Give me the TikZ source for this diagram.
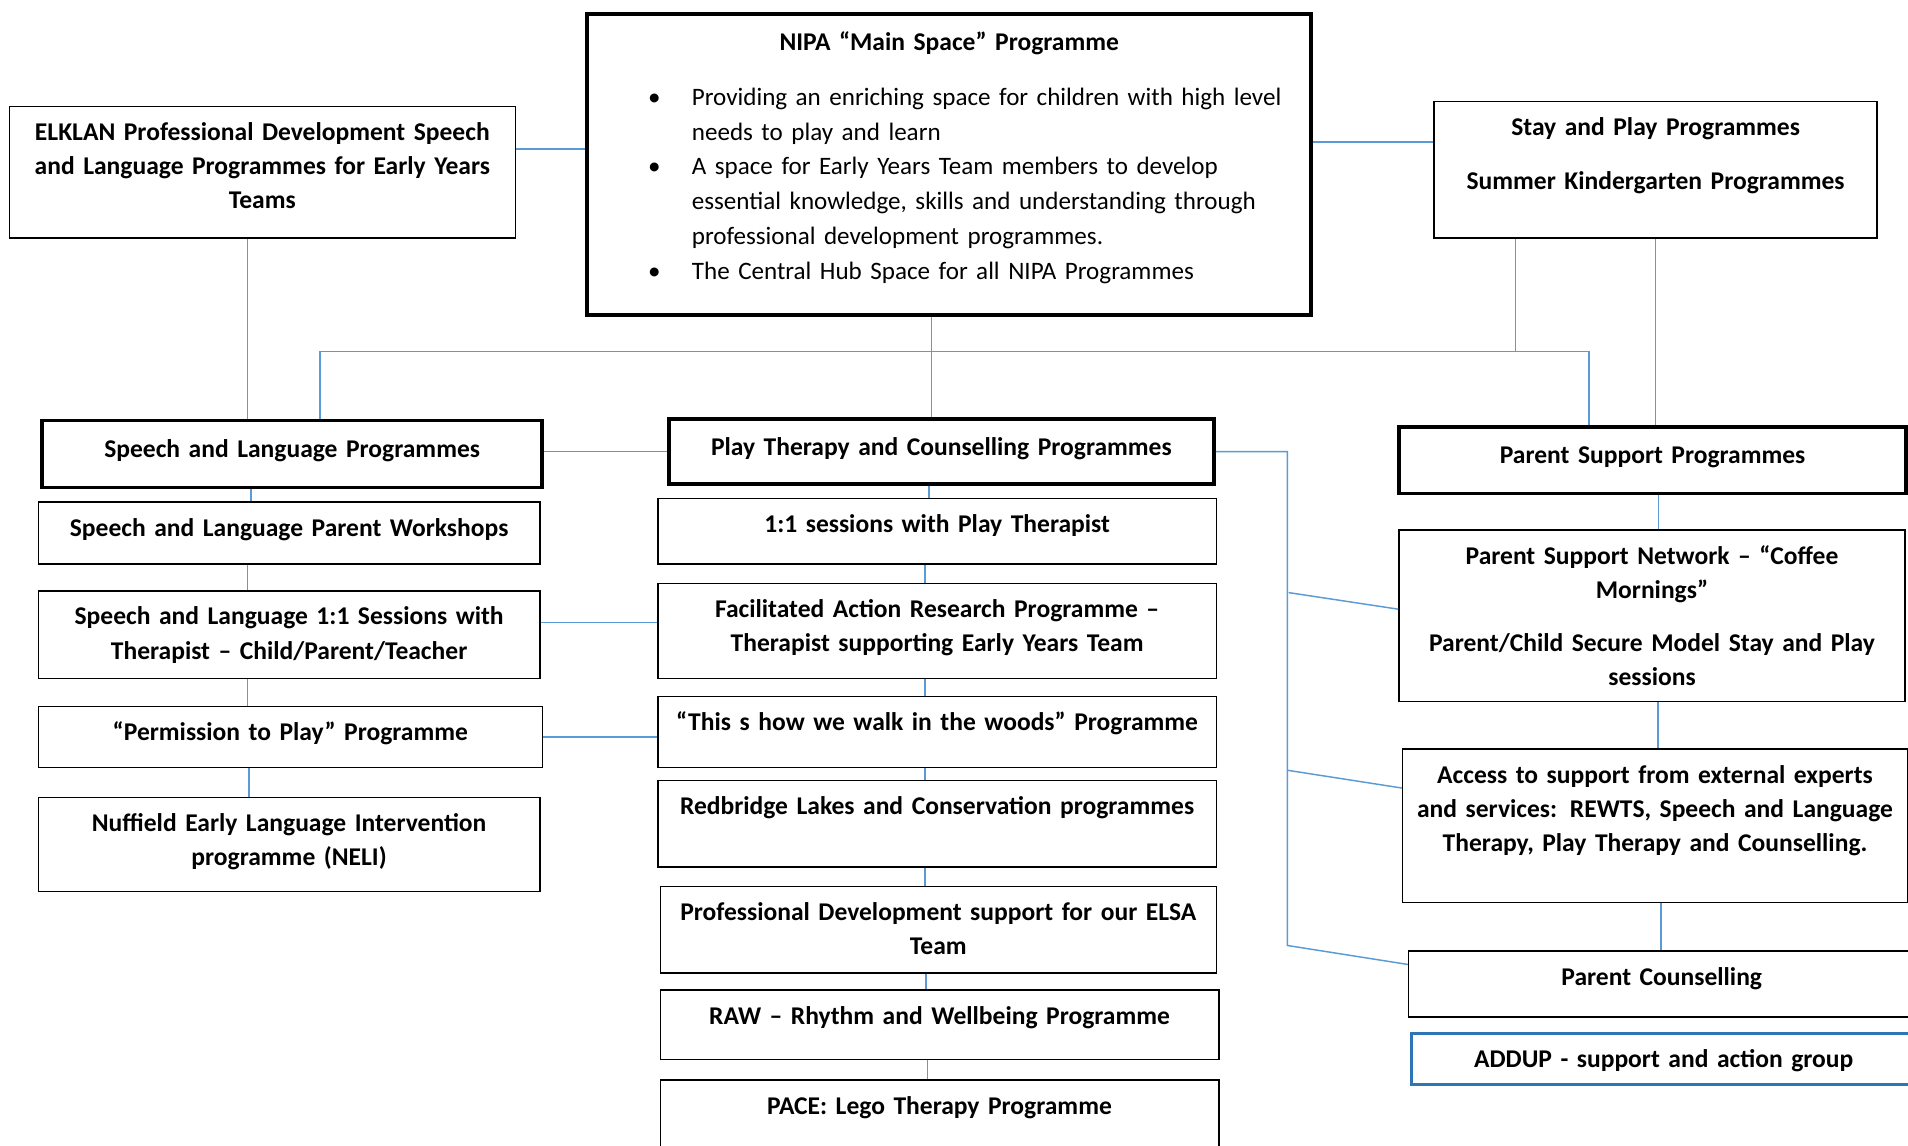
\documentclass[tikz,border=0pt]{standalone}
\usepackage{fontspec}
\setmainfont{Carlito}
\usepackage{tikz}
\definecolor{linkblue}{RGB}{91,155,213}
\definecolor{addupblue}{RGB}{46,117,182}
\tikzset{
prog/.style = { rectangle, draw = black, line width = 0.6pt, fill = white, inner sep = 0pt, anchor = north west, align = center, text height = 14pt, font = \fontsize{10.5pt}{14pt}\selectfont\bfseries },
hub/.style = { prog, line width = 1.6pt, text height = 15pt },
group/.style = { prog, draw = addupblue, line width = 1.2pt },
link/.style = { draw = linkblue, line width = 0.6pt },
}

\begin{document}
\begin{tikzpicture}[x = 0.5pt, y = -0.5pt]
      \useasboundingbox[fill = white] (0, 0) rectangle (1568, 941);
      % top row
      \node[prog, text width = 208pt, text depth = 40pt] (elklan) at (7, 87) {ELKLAN Professional Development Speech\\ and Language Programmes for Early Years\\ Teams};
      \node[hub, text width = 297.5pt, text depth = 108.5pt, align = left] (nipa) at (481, 10) {\makebox[297.5pt]{NIPA “Main Space” Programme}\\[8.5pt]
      \hspace*{25pt}\mdseries\fontsize{10.3pt}{14pt}\selectfont\def\arraystretch{1.02}\begin{tabular}[t]{@{}p{18pt}@{}l@{}}
      \textbullet & Providing an enriching space for children with high level\\
       & needs to play and learn\\
      \textbullet & A space for Early Years Team members to develop\\
       & essential knowledge, skills and understanding through\\
       & professional development programmes.\\
      \textbullet & The Central Hub Space for all NIPA Programmes
      \end{tabular}};
      \node[prog, text width = 182pt, text depth = 42pt] (stay) at (1178, 83) {Stay and Play Programmes\\[8pt] Summer Kindergarten Programmes};
      % speech and language
      \node[hub, text width = 205.5pt, text depth = 12.5pt] (slp) at (33, 344) {Speech and Language Programmes};
      \node[prog, text width = 206pt, text depth = 11.5pt] (slw) at (31, 412) {Speech and Language Parent Workshops};
      \node[prog, text width = 206pt, text depth = 22pt] (sl11) at (31, 485) {Speech and Language 1:1 Sessions with\\ Therapist – Child/Parent/Teacher};
      \node[prog, text width = 207pt, text depth = 11pt] (perm) at (31, 580) {“Permission to Play” Programme};
      \node[prog, text width = 206pt, text depth = 24.5pt] (neli) at (31, 655) {Nuffield Early Language Intervention\\ programme (NELI)};
      % play therapy
      \node[hub, text width = 224pt, text depth = 11.5pt] (ptc) at (548, 343) {Play Therapy and Counselling Programmes};
      \node[prog, text width = 229.5pt, text depth = 13pt] (pt11) at (540, 409) {1:1 sessions with Play Therapist};
      \node[prog, text width = 229.5pt, text depth = 25pt] (far) at (540, 479) {Facilitated Action Research Programme –\\ Therapist supporting Early Years Team};
      \node[prog, text width = 229.5pt, text depth = 15pt] (woods) at (540, 572) {“This s how we walk in the woods” Programme};
      \node[prog, text width = 229.5pt, text depth = 21.5pt] (lakes) at (540, 641) {Redbridge Lakes and Conservation programmes};
      \node[prog, text width = 228.5pt, text depth = 21.5pt] (elsa) at (542, 728) {Professional Development support for our ELSA\\ Team};
      \node[prog, text width = 229.5pt, text depth = 14.5pt] (raw) at (542, 813) {RAW – Rhythm and Wellbeing Programme};
      \node[prog, text width = 229.5pt, text depth = 15pt] (pace) at (542, 887) {PACE: Lego Therapy Programme};
      % parent support
      \node[hub, text width = 208.5pt, text depth = 12.5pt] (psp) at (1148, 349) {Parent Support Programmes};
      \node[prog, text width = 208pt, text depth = 56.5pt] (psn) at (1149, 435) {Parent Support Network – “Coffee\\ Mornings”\\[8pt] Parent/Child Secure Model Stay and Play\\ sessions};
      \node[prog, text width = 207.5pt, text depth = 49pt] (access) at (1152, 615) {Access to support from external experts\\ and services: REWTS, Speech and Language\\ Therapy, Play Therapy and Counselling.};
      \node[prog, text width = 208pt, text depth = 13pt] (pc) at (1157, 781) {Parent Counselling};
      \node[group, text width = 207pt, text depth = 7pt] (addup) at (1159, 848) {ADDUP - support and action group};
      % links
      \coordinate (busL) at (263, 289);
      \coordinate (busR) at (1306, 289);
      \coordinate (trunk) at (1058, 367);
      \coordinate (toPsn) at (1059, 487);
      \coordinate (toAccess) at (1058, 633);
      \coordinate (toPc) at (1058, 777);
      \draw[link] ([yshift = 9.5pt]elklan.east) -- ([yshift = 9.5pt]elklan.east -| nipa.west);
      \draw[link] ([yshift = 11.5pt]stay.west) -- ([yshift = 11.5pt]stay.west -| nipa.east);
      \draw[link] ([xshift = -7.25pt]nipa.south) -- ([xshift = -7.25pt]nipa.south |- ptc.north);
      \draw[link] (busL |- slp.north) -- (busL) -- (busR) -- (busR |- psp.north);
      \draw[link] ([xshift = -57.5pt]stay.south) -- ([xshift = -57.5pt]stay.south |- busR);
      \draw[link] (stay.south) -- (stay.south |- psp.north);
      \draw[link] ([xshift = -6pt]elklan.south) -- ([xshift = -6pt]elklan.south |- slp.north);
      \draw[link] (ptc.west -| slp.east) -- (ptc.west);
      \draw[link] ([yshift = 5pt]sl11.east) -- ([yshift = 5pt]sl11.east -| far.west);
      \draw[link] (perm.east) -- (perm.east -| woods.west);
      \foreach \pa/\pb in {slp/slw, slw/sl11, sl11/perm, perm/neli}
        \draw[link] ([xshift = -17pt]\pa.south) -- ([xshift = -17pt]\pa.south |- \pb.north);
      \foreach \pa/\pb in {ptc/pt11, pt11/far, far/woods, woods/lakes, lakes/elsa, elsa/raw, raw/pace}
        \draw[link] ([xshift = -5pt]\pa.south) -- ([xshift = -5pt]\pa.south |- \pb.north);
      \foreach \pa/\pb in {psp/psn, psn/access, access/pc}
        \draw[link] ([xshift = 2.5pt]\pa.south) -- ([xshift = 2.5pt]\pa.south |- \pb.north);
      \draw[link] (ptc.east) -- (ptc.east -| trunk) -- (toPc) -- ([yshift = 8pt]pc.west);
      \draw[link] (toPsn) -- ([yshift = 2.75pt]psn.west);
      \draw[link] (toAccess) -- ([yshift = 15.5pt]access.west);
    \end{tikzpicture}
\end{document}
